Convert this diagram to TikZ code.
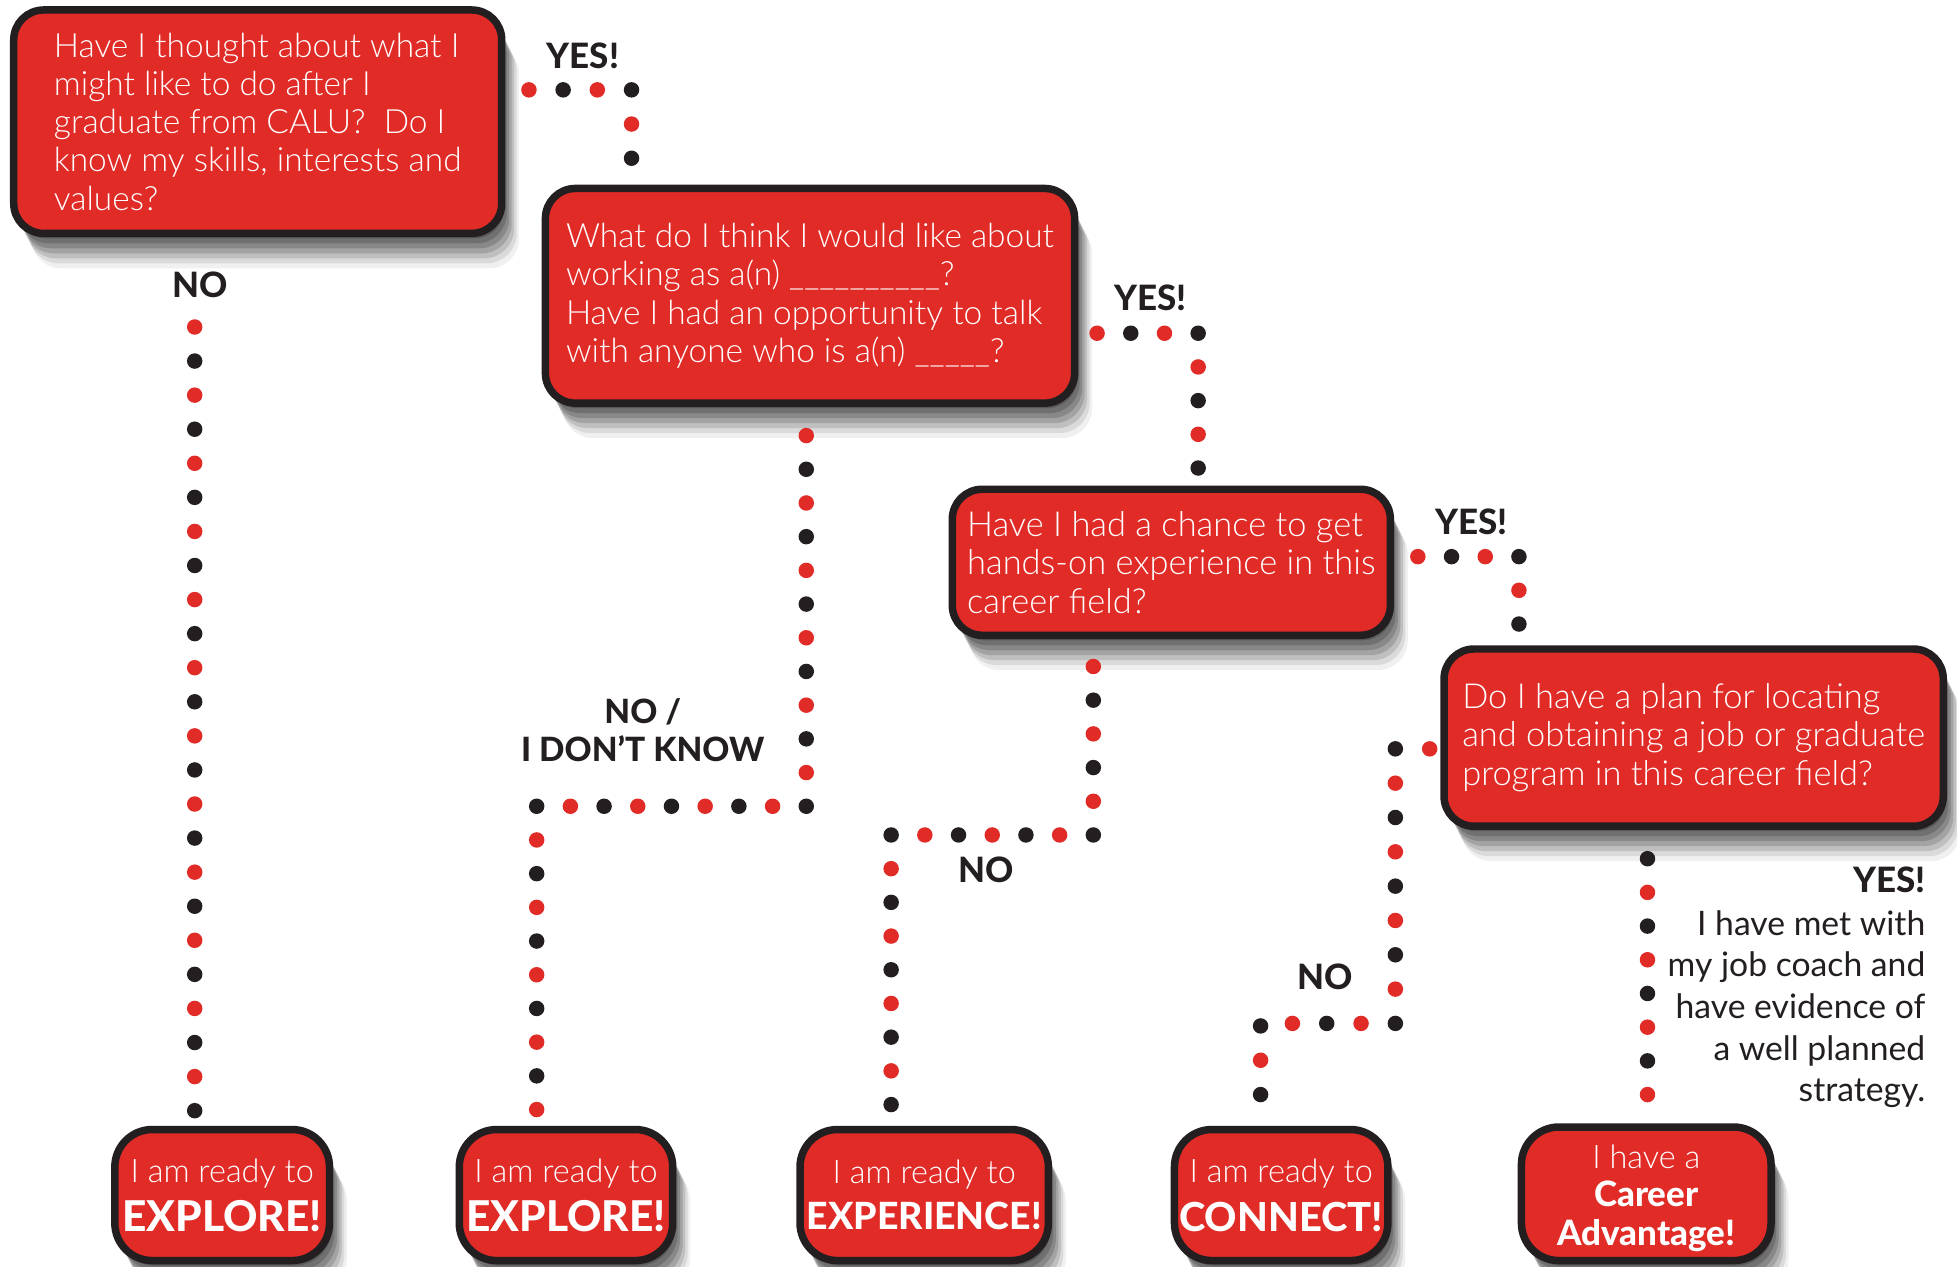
\documentclass[tikz,border=0pt]{standalone}
\usepackage{fontspec}
\setmainfont{Lato}
\IfFontExistsTF{Lato Light}{\newfontfamily\lightf{Lato Light}}{\newfontfamily\lightf{Lato}}
\IfFontExistsTF{Lato Heavy}{\newfontfamily\heavyf{Lato Heavy}\def\hvy{}}{\newfontfamily\heavyf{Lato}\def\hvy{\bfseries}}
\newfontfamily\regf{Lato}
\usetikzlibrary{shadows,decorations.markings}
\definecolor{dred}{HTML}{E02B27}
\definecolor{dblk}{HTML}{231F20}
\tikzset{
  softshadow/.style={
    drop shadow={shadow xshift=1pt, shadow yshift=-2pt, opacity=.2, fill=black},
    drop shadow={shadow xshift=2pt, shadow yshift=-4pt, opacity=.18, fill=black},
    drop shadow={shadow xshift=3pt, shadow yshift=-6pt, opacity=.16, fill=black},
    drop shadow={shadow xshift=4pt, shadow yshift=-8pt, opacity=.14, fill=black},
    drop shadow={shadow xshift=5pt, shadow yshift=-10pt, opacity=.12, fill=black},
    drop shadow={shadow xshift=6pt, shadow yshift=-12pt, opacity=.09, fill=black},
    drop shadow={shadow xshift=7pt, shadow yshift=-14pt, opacity=.06, fill=black}},
  qbox/.style={draw=dblk, line width=3pt, fill=dred, rounded corners=12pt, text=white,
    inner sep=0pt, align=left, font=\lightf\fontsize{13.4}{15.3}\selectfont, softshadow},
  qboxb/.style={qbox, font=\lightf\fontsize{13.8}{15.4}\selectfont},
  abox/.style={draw=dblk, line width=3pt, fill=dred, rounded corners=15pt, text=white,
    inner sep=0pt, align=center, font=\lightf\fontsize{13}{17.5}\selectfont, softshadow},
  lab/.style={font=\heavyf\hvy\fontsize{14}{16}\selectfont, text=dblk, inner sep=0pt, align=center},
  dots/.style n args={3}{
    postaction={decorate, decoration={markings,
      mark=between positions #1 and -3pt step #3 with {\fill[dred] (0,0) circle[radius=3.1pt];}}},
    postaction={decorate, decoration={markings,
      mark=between positions #2 and -3pt step #3 with {\fill[dblk] (0,0) circle[radius=3.1pt];}}}},
}
\newcommand{\bigw}[2]{{\heavyf\hvy\fontsize{#1}{#1}\selectfont #2}}
\begin{document}
\begin{tikzpicture}[x=0.5pt,y=-0.5pt]
\useasboundingbox[fill=white] (0,0) rectangle (1568,1015);
% question boxes
\node[qbox, minimum width=195.5pt, minimum height=89.5pt] (b1) at (206.5,97.5)
  {Have I thought about what I\\might like to do after I\\graduate from CALU?\ \ Do I\\know my skills, interests and\\values?};
\node[qbox, minimum width=212pt, minimum height=86pt] (b2) at (649,237)
  {What do I think I would like about\\working as a(n) \_\_\_\_\_\_\_\_\_\_?\\Have I had an opportunity to talk\\with anyone who is a(n) \_\_\_\_\_?};
\node[qboxb, minimum width=175.5pt, minimum height=58.5pt] (b3) at (938.5,450.5)
  {Have I had a chance to get\\hands-on experience in this\\career field?};
\node[qboxb, minimum width=200pt, minimum height=71pt] (b4) at (1357,591)
  {Do I have a plan for locating\\and obtaining a job or graduate\\program in this career field?};
% answer boxes
\node[abox, minimum width=86pt, minimum height=52.5pt] (f1) at (178,957.5)
  {I am ready to\\[2pt]\bigw{17}{EXPLORE!}};
\node[abox, minimum width=85.5pt, minimum height=52.5pt] (f2) at (453.5,957.5)
  {I am ready to\\[2pt]\bigw{17}{EXPLORE!}};
\node[abox, minimum width=99.5pt, minimum height=52.5pt] (f3) at (740.5,957.5)
  {I am ready to\\[1pt]\bigw{15}{EXPERIENCE!}};
\node[abox, minimum width=85.5pt, minimum height=52.5pt] (f4) at (1026.5,957.5)
  {I am ready to\\[2pt]\bigw{16}{CONNECT!}};
\node[abox, minimum width=100pt, minimum height=53.5pt, font=\lightf\fontsize{13}{15.5}\selectfont] (f5) at (1319,956.5)
  {\rule{0pt}{13pt}I have a\\\bigw{14}{Career}\\\bigw{14}{Advantage!}};
% labels
\node[lab] (l1) at (467,45) {YES!};
\node[lab] (l2) at (160,228) {NO};
\node[lab] (l3) at (922,239) {YES!};
\node[lab, font=\heavyf\hvy\fontsize{13.4}{15.5}\selectfont] (l4) at (515,585) {NO /\\I DON’T KNOW};
\node[lab] (l5) at (1179,418) {YES!};
\node[lab] (l6) at (790,697) {NO};
\node[lab] (l7) at (1062,783) {NO};
\node[text=dblk, inner sep=0pt, align=right, anchor=east, font=\regf\fontsize{13.5}{16.65}\selectfont] (l8) at (1543,791)
  {\bigw{14}{YES!}\\[0.6pt]I have met with\\my job coach and\\have evidence of\\a well planned\\strategy.};
% connector corners
\coordinate (cA) at (506,72);
\coordinate (xB) at (156,0);
\coordinate (cC) at (960,267);
\coordinate (cD1) at (646,646);
\coordinate (cD2) at (430,646);
\coordinate (cE) at (1217,446);
\coordinate (cF1) at (876,669);
\coordinate (cF2) at (714,669);
\coordinate (cG1) at (1118,600);
\coordinate (cG2) at (1118,820);
\coordinate (cG3) at (1010,820);
\coordinate (xH) at (1320,0);
% connectors
\path[dots={9.4pt}{23.1pt}{27.4pt}] (b1.east |- cA) -- (cA) -- (b2.north -| cA);
\path[dots={36pt}{49.65pt}{27.3pt}] (b1.south -| xB) -- (f1.north -| xB);
\path[dots={7.5pt}{21pt}{27pt}] (b2.east |- cC) -- (cC) -- (b3.north -| cC);
\path[dots={11.5pt}{25pt}{27pt}] (b2.south -| cD1) -- (cD1) -- (cD2) -- (f2.north -| cD2);
\path[dots={9.5pt}{23pt}{27pt}] (b3.east |- cE) -- (cE) -- (b4.north -| cE);
\path[dots={11pt}{24.5pt}{27pt}] (b3.south -| cF1) -- (cF1) -- (cF2) -- (f3.north -| cF2);
\path[dots={4.25pt}{18pt}{27.5pt}] (b4.west |- cG1) -- (cG1) -- (cG2) -- (cG3) -- (f4.north -| cG3);
\path[dots={25pt}{11.5pt}{27pt}] (b4.south -| xH) -- (f5.north -| xH);
\end{tikzpicture}
\end{document}
